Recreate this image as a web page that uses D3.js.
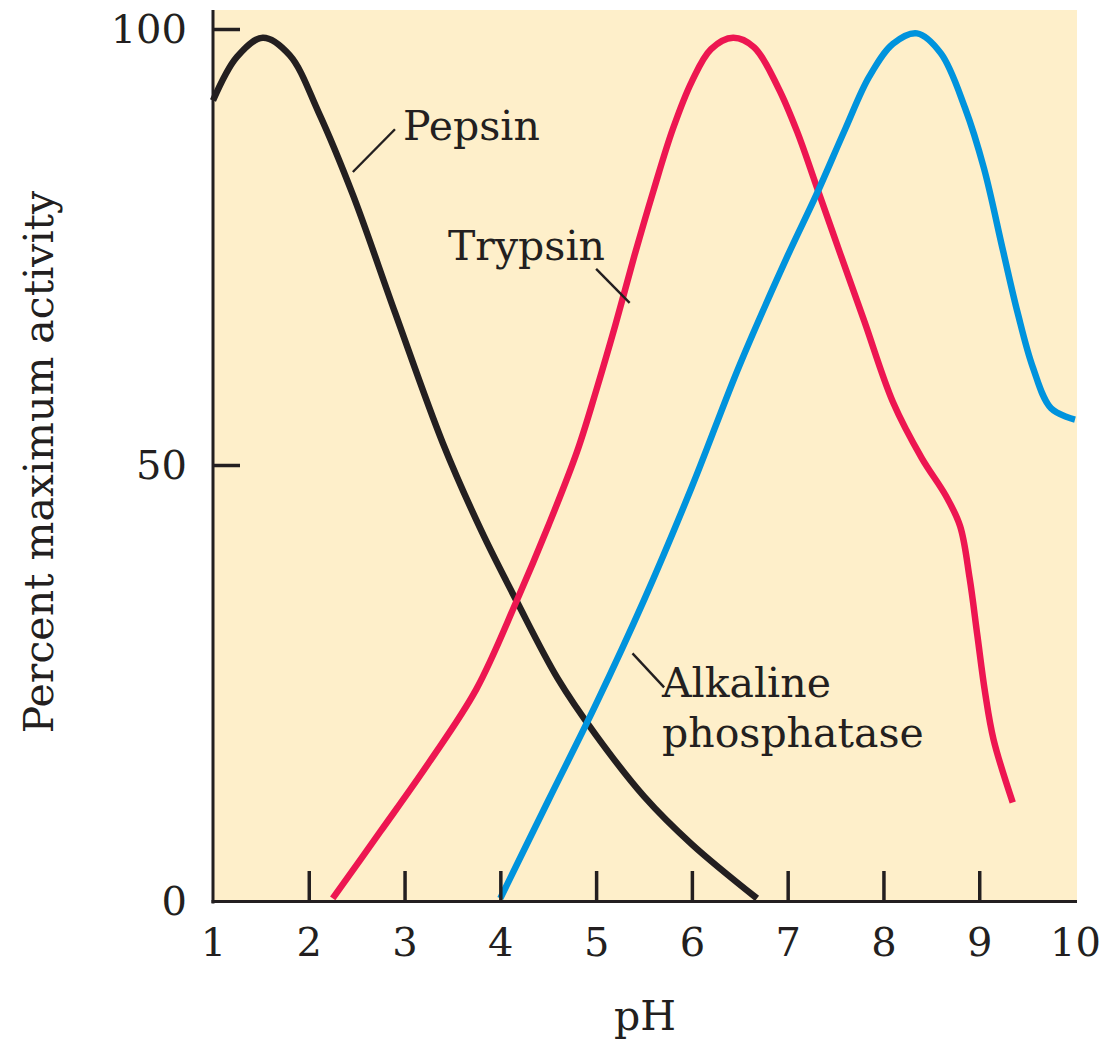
<!DOCTYPE html>
<html>
<head>
<meta charset="utf-8">
<script src="https://cdn.jsdelivr.net/npm/d3@7"></script>
<style>
  html, body { margin: 0; padding: 0; background: #ffffff; }
  svg { display: block; }
  text { font-family: "DejaVu Serif", serif; fill: #231F20; }
</style>
</head>
<body>
<svg id="chart" width="1100" height="1041"></svg>
<script>
// ---- Data ----
const pepsinPH  = [1.0, 1.25, 1.52, 1.8, 2.1, 2.46, 2.9, 3.4, 3.8, 4.17, 4.6, 5.0, 5.5, 6.0, 6.68];
const pepsinAct = [91.8, 96.8, 99.0, 97.0, 90.5, 81.0, 67.5, 52.5, 42.5, 34.4, 25.5, 19.0, 12.0, 6.5, 0.3];

const trypsinPH  = [2.25, 2.75, 3.25, 3.75, 4.17, 4.5, 4.8, 5.0, 5.2, 5.4, 5.6, 5.8, 6.0, 6.2, 6.43, 6.65, 6.9, 7.1, 7.3, 7.55, 7.8, 8.1, 8.4, 8.65, 8.8, 8.9, 8.98, 9.06, 9.15, 9.35];
const trypsinAct = [0.3, 8.0, 15.8, 24.3, 34.4, 43.0, 51.5, 58.5, 66.0, 74.0, 81.5, 88.5, 94.0, 97.7, 99.0, 97.9, 93.3, 88.2, 82.0, 74.2, 66.5, 57.2, 50.8, 46.5, 43.0, 37.0, 30.5, 24.0, 18.5, 11.3];

const alkPH  = [4.0, 4.5, 5.0, 5.5, 6.0, 6.5, 7.0, 7.3, 7.6, 7.85, 8.1, 8.35, 8.6, 8.85, 9.05, 9.25, 9.4, 9.56, 9.75, 10.0];
const alkAct = [0.3, 11.5, 22.6, 34.5, 47.5, 61.5, 74.0, 81.0, 88.5, 94.5, 98.3, 99.5, 97.2, 91.0, 84.0, 74.5, 67.5, 61.2, 56.5, 55.2];

const xTicks = [1, 2, 3, 4, 5, 6, 7, 8, 9, 10];
const yTicks = [0, 50, 100];

const seriesNames  = ["Pepsin", "Trypsin", "Alkaline phosphatase"];
const seriesColors = ["#231F20", "#ED1651", "#0093DD"];

const xTitle = "pH";
const yTitle = "Percent maximum activity";

// ---- Setup ----
const svg = d3.select("#chart");
const x = d3.scaleLinear().domain([1, 10]).range([213, 1075]);
const y = d3.scaleLinear().domain([0, 100]).range([901, 29]);

// plot background
svg.append("rect")
  .attr("x", 213).attr("y", 10)
  .attr("width", 864).attr("height", 892)
  .attr("fill", "#FEEFCA");

// curves
const line = d3.line()
  .x(d => x(d[0]))
  .y(d => y(d[1]))
  .curve(d3.curveCatmullRom.alpha(0.5));

const seriesData = [
  d3.zip(pepsinPH, pepsinAct),
  d3.zip(trypsinPH, trypsinAct),
  d3.zip(alkPH, alkAct)
];

svg.append("g").selectAll("path")
  .data(seriesData)
  .join("path")
  .attr("d", line)
  .attr("fill", "none")
  .attr("stroke", (d, i) => seriesColors[i])
  .attr("stroke-width", 6.5)
  .attr("stroke-linecap", "butt")
  .attr("stroke-linejoin", "round");

// ---- Axes ----
const xAxis = svg.append("g")
  .attr("transform", `translate(0,${y(0)})`)
  .call(d3.axisBottom(x).tickValues(xTicks).tickFormat(d3.format("d"))
        .tickSizeInner(-30).tickSizeOuter(0).tickPadding(0));
xAxis.select(".domain").remove();
xAxis.selectAll(".tick line")
  .attr("stroke", "#231F20").attr("stroke-width", 3.5)
  .attr("display", d => (d === 1 || d === 10) ? "none" : null);
xAxis.selectAll(".tick text")
  .attr("y", 55).attr("dy", 0)
  .style("font-family", "DejaVu Serif, serif")
  .style("font-size", "40px")
  .attr("fill", "#231F20");

const yAxis = svg.append("g")
  .attr("transform", `translate(${x(1)},0)`)
  .call(d3.axisLeft(y).tickValues(yTicks).tickFormat(d3.format("d"))
        .tickSizeInner(-27).tickSizeOuter(0).tickPadding(26));
yAxis.select(".domain").remove();
yAxis.selectAll(".tick line")
  .attr("stroke", "#231F20").attr("stroke-width", 3.5)
  .attr("display", d => d === 0 ? "none" : null);
yAxis.selectAll(".tick text")
  .attr("x", -26).attr("dy", "0.33em")
  .style("font-family", "DejaVu Serif, serif")
  .style("font-size", "40px")
  .attr("fill", "#231F20");

// axis lines (frame)
svg.append("line")
  .attr("x1", 213).attr("x2", 213).attr("y1", 10).attr("y2", 903.5)
  .attr("stroke", "#231F20").attr("stroke-width", 3);
svg.append("line")
  .attr("x1", 211.5).attr("x2", 1077).attr("y1", 901.5).attr("y2", 901.5)
  .attr("stroke", "#231F20").attr("stroke-width", 3);

// axis titles
svg.append("text")
  .attr("x", (x(1) + x(10)) / 2 + 1).attr("y", 1030)
  .attr("text-anchor", "middle")
  .style("font-size", "41px")
  .text(xTitle);

svg.append("text")
  .attr("transform", "translate(53,462) rotate(-90)")
  .attr("text-anchor", "middle")
  .style("font-size", "41px")
  .text(yTitle);

// ---- Curve labels with leader lines ----
const ann = svg.append("g");
const leaders = [
  [[x(2.46), y(83.6)], [x(2.9), y(88.5)]],
  [[x(5.0), y(72.5)], [x(5.35), y(68.6)]],
  [[x(5.38), y(28.4)], [x(5.71), y(24.5)]]
];
ann.selectAll("line")
  .data(leaders)
  .join("line")
  .attr("x1", d => d[0][0]).attr("y1", d => d[0][1])
  .attr("x2", d => d[1][0]).attr("y2", d => d[1][1])
  .attr("stroke", "#231F20").attr("stroke-width", 2.4);

ann.append("text").attr("x", 403).attr("y", 140).style("font-size", "41px").text(seriesNames[0]);
ann.append("text").attr("x", 448).attr("y", 260).style("font-size", "41px").text(seriesNames[1]);
ann.append("text").attr("x", 662).attr("y", 697).style("font-size", "41px").text("Alkaline");
ann.append("text").attr("x", 662).attr("y", 747).style("font-size", "41px").text("phosphatase");
</script>
</body>
</html>
